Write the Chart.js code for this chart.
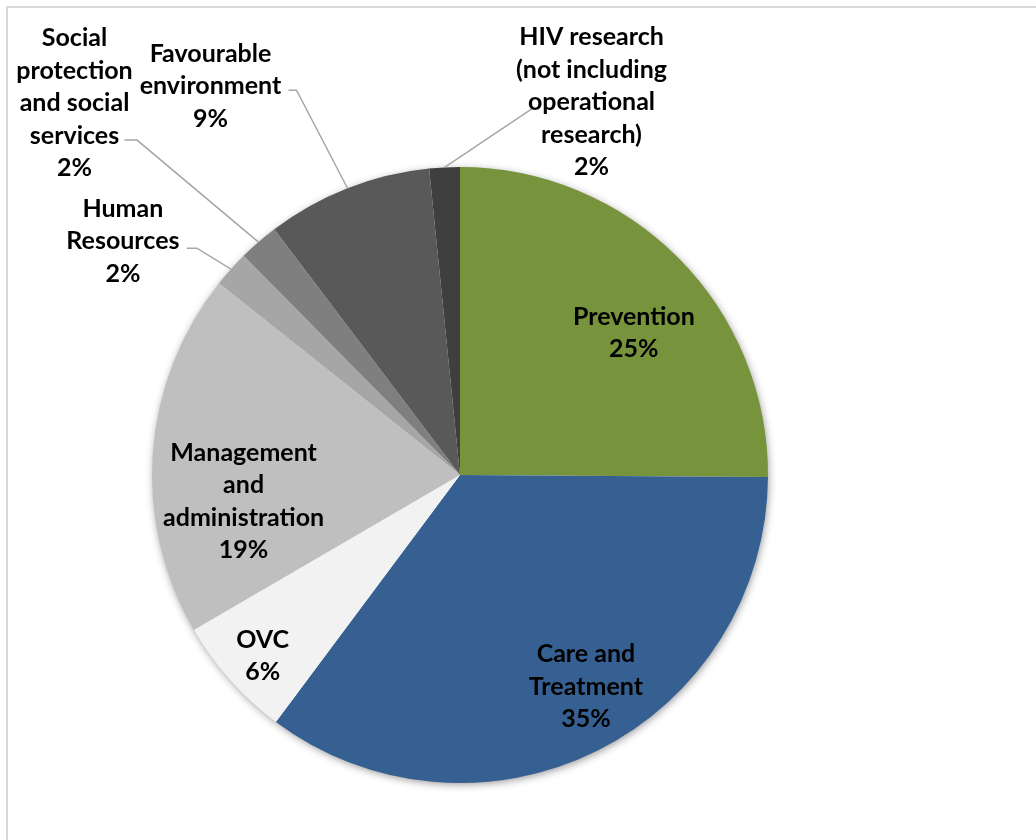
<!DOCTYPE html>
<html>
<head>
<meta charset="utf-8">
<script src="https://cdn.jsdelivr.net/npm/chart.js@4.4.1/dist/chart.umd.min.js"></script>
<style>
  html, body { margin: 0; padding: 0; background: #ffffff; overflow: hidden; }
  #wrap { position: relative; width: 1036px; height: 840px; }
  #frame { position: absolute; left: 6px; top: 6px; width: 1200px; height: 1000px; border: 2px solid #D9D9D9; box-sizing: border-box; }
  #c { position: absolute; left: 0; top: 0; }
</style>
</head>
<body>
<div id="wrap">
  <div id="frame"></div>
  <canvas id="c" width="1036" height="840"></canvas>
</div>
<script>
// ---- Data ----
const categories = [
  ["Prevention"],
  ["Care and", "Treatment"],
  ["OVC"],
  ["Management", "and", "administration"],
  ["Human", "Resources"],
  ["Social", "protection", "and social", "services"],
  ["Favourable", "environment"],
  ["HIV research", "(not including", "operational", "research)"]
];
const shares = [25.1, 35.1, 6.4, 19.1, 1.9, 2.1, 8.7, 1.6];
const sliceColors = ["#77933C", "#376092", "#F2F2F2", "#BFBFBF", "#A6A6A6", "#7F7F7F", "#595959", "#3F3F3F"];

// ---- Label placement (style): radius factor + pixel nudge; leader elbows relative to label centre ----
const labelPlace = [
  { f: 0.75, dx: 10,   dy: 19 },
  { f: 0.75, dx: 23,   dy: 3 },
  { f: 0.75, dx: -25,  dy: 25 },
  { f: 0.75, dx: 14,   dy: 41 },
  { f: 1.0,  dx: -108, dy: -30,  leader: { ex: 74,   ey: 9,  hx: 64 } },
  { f: 1.0,  dx: -184, dy: -141, leader: { ex: 62.5, ey: 39, hx: 50 } },
  { f: 1.0,  dx: -137, dy: -104, leader: { ex: 86,   ey: 6,  hx: 78 } },
  { f: 1.0,  dx: 147,  dy: -67,  leader: { ex: -59,  ey: 8,  hx: -59 } }
];
const FONT = "bold 25px Lato, 'Open Sans', sans-serif";
const LINE_H = 32.5;
const TEXT_SHIFT = 2;

const shadowPlugin = {
  id: 'pieShadow',
  beforeDatasetsDraw(chart) {
    const arc = chart.getDatasetMeta(0).data[0];
    if (!arc) return;
    const ctx = chart.ctx;
    ctx.save();
    ctx.beginPath();
    ctx.arc(arc.x, arc.y, arc.outerRadius - 1, 0, Math.PI * 2);
    ctx.shadowColor = 'rgba(0,0,0,0.45)';
    ctx.shadowBlur = 9;
    ctx.shadowOffsetX = 1;
    ctx.shadowOffsetY = 2;
    ctx.fillStyle = '#ffffff';
    ctx.fill();
    ctx.restore();
  }
};

const labelPlugin = {
  id: 'sliceLabels',
  afterDatasetsDraw(chart) {
    const ctx = chart.ctx;
    const meta = chart.getDatasetMeta(0);
    const data = chart.data.datasets[0].data;
    const total = data.reduce((a, b) => a + b, 0);
    ctx.save();
    ctx.font = FONT;
    ctx.textAlign = 'center';
    ctx.textBaseline = 'middle';
    meta.data.forEach((arc, i) => {
      const p = labelPlace[i];
      const mid = (arc.startAngle + arc.endAngle) / 2;
      const R = arc.outerRadius;
      const ax = arc.x + Math.cos(mid) * R * p.f + p.dx;
      const ay = arc.y + Math.sin(mid) * R * p.f + p.dy;
      const lines = categories[i].concat([Math.round(data[i] / total * 100) + '%']);
      const top = ay - (lines.length - 1) * LINE_H / 2 + TEXT_SHIFT;
      if (p.leader) {
        const ex = ax + p.leader.ex, ey = ay + p.leader.ey;
        const px = arc.x + Math.cos(mid) * R, py = arc.y + Math.sin(mid) * R;
        ctx.beginPath();
        ctx.moveTo(px, py);
        ctx.lineTo(ex, ey);
        ctx.lineTo(ax + p.leader.hx, ey);
        ctx.strokeStyle = '#A6A6A6';
        ctx.lineWidth = 1.5;
        ctx.stroke();
      }
      ctx.fillStyle = '#000000';
      lines.forEach((t, k) => ctx.fillText(t, ax, top + k * LINE_H));
    });
    ctx.restore();
  }
};

new Chart(document.getElementById('c'), {
  type: 'pie',
  data: {
    labels: categories,
    datasets: [{
      data: shares,
      backgroundColor: sliceColors,
      borderWidth: 0,
      hoverOffset: 0
    }]
  },
  options: {
    responsive: false,
    animation: false,
    layout: { padding: { left: 152, right: 268, top: 167, bottom: 57 } },
    plugins: {
      legend: { display: false },
      tooltip: { enabled: false },
      title: { display: false }
    }
  },
  plugins: [shadowPlugin, labelPlugin]
});
</script>
</body>
</html>
